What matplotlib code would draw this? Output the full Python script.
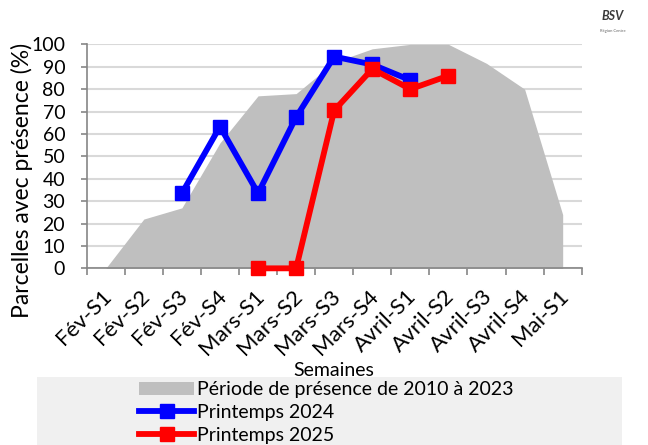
import matplotlib
matplotlib.use("Agg")
import matplotlib.pyplot as plt
import matplotlib.transforms as mtrans
from matplotlib.patches import Rectangle, Patch
from matplotlib.lines import Line2D

plt.rcParams['font.family'] = ['Lato', 'DejaVu Sans']

semaines = ["Fév-S1", "Fév-S2", "Fév-S3", "Fév-S4", "Mars-S1", "Mars-S2", "Mars-S3",
            "Mars-S4", "Avril-S1", "Avril-S2", "Avril-S3", "Avril-S4", "Mai-S1"]
# presence 2010-2023 (%)
periode = [0, 22, 27, 56, 77, 78, 92, 98, 100, 100, 91.5, 80, 24]
# 2024 and 2025 observations (None = no data)
p2024 = [None, None, 33.5, 63.3, 33.5, 67.5, 94.5, 91, 84, None, None, None, None]
p2025 = [None, None, None, None, 0, 0, 70.5, 89, 80, 86, None, None, None]

x = list(range(len(semaines)))

fig = plt.figure(figsize=(6.48, 4.45), dpi=100)
ax = fig.add_axes([0.1338, 0.397, 0.7639, 0.5034])

ax.fill_between(x, periode, 0, color='#bfbfbf', linewidth=0, zorder=1)

def pts(vals):
    xs = [i for i, v in enumerate(vals) if v is not None]
    return xs, [vals[i] for i in xs]

xb, yb = pts(p2024)
ax.plot(xb, yb, color='#0000ff', lw=4.2, marker='s', ms=10, zorder=3)
xr, yr = pts(p2025)
ax.plot(xr, yr, color='#ff0000', lw=4.2, marker='s', ms=10, zorder=4, clip_on=False)

ax.set_xlim(-0.5, len(semaines) - 0.5)
ax.set_ylim(0, 100)
ax.set_yticks(range(0, 101, 10))
ax.yaxis.grid(True, color='#d9d9d9', lw=1.5, zorder=0)
ax.set_axisbelow(True)

ax.set_xticks([i - 0.5 for i in range(len(semaines) + 1)])
ax.set_xticklabels([])
ax.set_xticks(x, minor=True)
ax.set_xticklabels(semaines, minor=True, rotation=45, ha='right', va='center',
                   rotation_mode='anchor', fontsize=16)
ax.tick_params(axis='x', which='minor', length=0, pad=14)
ax.tick_params(axis='x', which='major', length=5, width=1.2, color='#868686')
ax.tick_params(axis='y', length=4.5, width=1.2, color='#868686', labelsize=14, pad=11)

# nudge the rotated week labels down and slightly right
shift = mtrans.ScaledTranslation(3 / 100, -5 / 100, fig.dpi_scale_trans)
for lab in ax.get_xticklabels(minor=True):
    lab.set_transform(lab.get_transform() + shift)

for s in ['top', 'right']:
    ax.spines[s].set_visible(False)
for s in ['left', 'bottom']:
    ax.spines[s].set_color('#868686')
    ax.spines[s].set_linewidth(1.2)

fig.text(0.034, 0.595, "Parcelles avec présence (%)", rotation=90,
         ha='center', va='center', fontsize=16.5)
fig.text(0.515, 0.168, "Semaines", ha='center', va='center', fontsize=14)

# legend background band
fig.patches.append(Rectangle((0.057, 0.0), 0.903, 0.153, transform=fig.transFigure,
                             facecolor='#f0f0f0', edgecolor='none', zorder=0))

handles = [Patch(facecolor='#bfbfbf', edgecolor='none'),
           Line2D([], [], color='#0000ff', lw=4.2, marker='s', ms=10),
           Line2D([], [], color='#ff0000', lw=4.2, marker='s', ms=10)]
labels = ["Période de présence de 2010 à 2023", "Printemps 2024", "Printemps 2025"]
fig.legend(handles, labels, loc='upper left', bbox_to_anchor=(0.215, 0.143),
           frameon=False, fontsize=14, handlelength=2.8, handletextpad=0.15,
           labelspacing=0.3, borderpad=0, borderaxespad=0)

# logo
fig.text(0.945, 0.965, "BSV", ha='center', va='center', fontsize=9,
         style='italic', color='#3a3a3a', fontweight='bold')
fig.text(0.945, 0.93, "Région Centre", ha='center', va='center', fontsize=3,
         color='#666666')

fig.savefig("out.png", dpi=100)
